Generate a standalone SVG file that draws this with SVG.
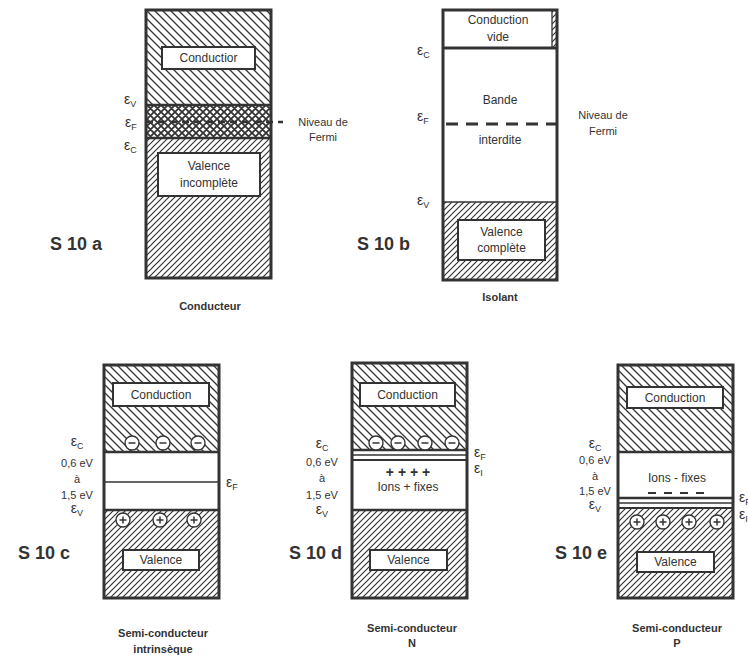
<svg xmlns="http://www.w3.org/2000/svg" width="748" height="655" viewBox="0 0 748 655">
<defs>
<pattern id="hc" width="8" height="8" patternUnits="userSpaceOnUse"><path d="M0,0 L8,8 M-4,4 L4,12 M4,-4 L12,4" stroke="#333" stroke-width="1.3"/></pattern>
<pattern id="hv" width="6" height="6" patternUnits="userSpaceOnUse"><path d="M0,6 L6,0 M-3,3 L3,-3 M3,9 L9,3" stroke="#333" stroke-width="1.2"/></pattern>
<pattern id="hx" width="7" height="7" patternUnits="userSpaceOnUse"><path d="M0,0 L7,7 M0,7 L7,0 M-3.5,3.5 L0,7 M3.5,-3.5 L10.5,3.5 M-3.5,3.5 L3.5,-3.5 M3.5,10.5 L10.5,3.5" stroke="#333" stroke-width="1.8"/></pattern>
<g id="minus"><circle r="7" fill="#fff" stroke="#333" stroke-width="1.4"/><path d="M-3.5,0 H3.5" stroke="#333" stroke-width="1.5"/></g>
<g id="plus"><circle r="7" fill="#fff" stroke="#333" stroke-width="1.4"/><path d="M-3.5,0 H3.5 M0,-3.5 V3.5" stroke="#333" stroke-width="1.5"/></g>
</defs>
<style>
text{font-family:"Liberation Sans",Arial,sans-serif;fill:#333;font-size:11px}
.m{text-anchor:middle}
.e{text-anchor:end}
.b{font-size:12px}
.t{font-weight:bold;font-size:18px}
.c{font-weight:bold;font-size:11px;text-anchor:middle}
.eps{font-size:14px}
.frame{fill:none;stroke:#333;stroke-width:3}
.box{fill:#fff;stroke:#333;stroke-width:2}
.ln{stroke:#333;stroke-width:2.5}
.thin{stroke:#333;stroke-width:1.3}
.sub{font-size:9px}
</style>
<rect width="748" height="655" fill="#fff"/>

<g id="s10a">
<rect x="146" y="10" width="125" height="95" fill="url(#hc)"/>
<rect x="146" y="105" width="125" height="33" fill="url(#hx)"/>
<rect x="146" y="138" width="125" height="140" fill="url(#hv)"/>
<line x1="146" y1="105" x2="271" y2="105" class="ln"/>
<line x1="146" y1="138" x2="271" y2="138" class="ln"/>
<rect x="146" y="10" width="125" height="268" class="frame"/>
<g id="s10a-cond"><rect x="162" y="47" width="93" height="22" class="box"/><text x="208.5" y="62" class="m b">Conductior</text></g>
<g id="s10a-val"><rect x="158" y="153" width="102" height="43" class="box"/><text x="209" y="170" class="m b">Valence</text><text x="209" y="187" class="m b">incomplète</text></g>
<text x="124" y="104" class="eps">ε<tspan class="sub" dy="3">V</tspan></text>
<text x="125" y="127" class="eps">ε<tspan class="sub" dy="3">F</tspan></text>
<text x="124" y="150" class="eps">ε<tspan class="sub" dy="3">C</tspan></text>
<text x="323" y="126" class="m">Niveau de</text>
<text x="323" y="141" class="m">Fermi</text>
<text x="50" y="250" class="t">S 10 a</text>
<text x="210" y="310" class="c">Conducteur</text>
</g>

<g id="s10b">
<rect x="443" y="10" width="114" height="270" fill="#fff"/>
<rect x="552" y="10" width="5" height="38" fill="url(#hv)"/>
<line x1="552" y1="10" x2="552" y2="48" class="thin"/>
<rect x="443" y="202" width="114" height="78" fill="url(#hv)"/>
<line x1="443" y1="48" x2="557" y2="48" stroke="#333" stroke-width="3"/>
<line x1="443" y1="202" x2="557" y2="202" class="thin"/>
<rect x="443" y="10" width="114" height="270" class="frame"/>
<text x="498" y="24" class="m b">Conduction</text>
<text x="498" y="41" class="m b">vide</text>
<text x="500" y="104" class="m b">Bande</text>
<text x="500" y="144" class="m b">interdite</text>
<g id="s10b-val"><rect x="458" y="220" width="87" height="40" class="box"/><text x="501.5" y="236" class="m b">Valence</text><text x="501.5" y="252" class="m b">complète</text></g>
<text x="417" y="55" class="eps">ε<tspan class="sub" dy="3">C</tspan></text>
<text x="417" y="121" class="eps">ε<tspan class="sub" dy="3">F</tspan></text>
<text x="417" y="205" class="eps">ε<tspan class="sub" dy="3">V</tspan></text>
<text x="603" y="119" class="m">Niveau de</text>
<text x="603" y="135" class="m">Fermi</text>
<text x="357" y="250" class="t">S 10 b</text>
<text x="500" y="301" class="c">Isolant</text>
</g>

<g id="s10c">
<rect x="104" y="365" width="115" height="87" fill="url(#hc)"/>
<rect x="104" y="510" width="115" height="88" fill="url(#hv)"/>
<line x1="104" y1="452" x2="219" y2="452" class="ln"/>
<line x1="104" y1="482" x2="219" y2="482" class="thin"/>
<line x1="104" y1="510" x2="219" y2="510" class="ln"/>
<rect x="104" y="365" width="115" height="233" class="frame"/>
<g id="s10c-cond"><rect x="113" y="383" width="96" height="23" class="box"/><text x="161" y="399" class="m b">Conduction</text></g>
<use href="#minus" x="132" y="443"/><use href="#minus" x="163" y="443"/><use href="#minus" x="198" y="443"/>
<use href="#plus" x="123" y="520"/><use href="#plus" x="160" y="520"/><use href="#plus" x="194" y="520"/>
<g id="s10c-val"><rect x="123" y="550" width="76" height="20" class="box"/><text x="161" y="564" class="m b">Valence</text></g>
<text x="226" y="487" class="eps">ε<tspan class="sub" dy="3">F</tspan></text>
<text x="77" y="446" class="m eps">ε<tspan class="sub" dy="3">C</tspan></text>
<text x="77" y="467" class="m">0,6 eV</text>
<text x="77" y="483" class="m">à</text>
<text x="77" y="499" class="m">1,5 eV</text>
<text x="77" y="513" class="m eps">ε<tspan class="sub" dy="3">V</tspan></text>
<text x="18" y="559" class="t">S 10 c</text>
<text x="163" y="637" class="c">Semi-conducteur</text>
<text x="163" y="653" class="c">intrinsèque</text>
</g>

<g id="s10d">
<rect x="352" y="363" width="115" height="87" fill="url(#hc)"/>
<rect x="352" y="510" width="115" height="88" fill="url(#hv)"/>
<line x1="352" y1="450" x2="467" y2="450" class="ln"/>
<line x1="352" y1="455" x2="467" y2="455" class="thin"/>
<line x1="352" y1="460" x2="467" y2="460" stroke="#333" stroke-width="2"/>
<line x1="352" y1="510" x2="467" y2="510" class="ln"/>
<rect x="352" y="363" width="115" height="235" class="frame"/>
<g id="s10d-cond"><rect x="360" y="383" width="95" height="23" class="box"/><text x="407.5" y="399" class="m b">Conduction</text></g>
<use href="#minus" x="376" y="443"/><use href="#minus" x="398" y="443"/><use href="#minus" x="425" y="443"/><use href="#minus" x="452" y="443"/>
<text x="408" y="477" class="m" style="font-size:14px;font-weight:bold">+ + + +</text>
<text x="408" y="491" class="m b">Ions + fixes</text>
<g id="s10d-val"><rect x="370" y="550" width="77" height="20" class="box"/><text x="408.5" y="564" class="m b">Valence</text></g>
<text x="474" y="457" class="eps">ε<tspan class="sub" dy="3">F</tspan></text>
<text x="474" y="473" class="eps">ε<tspan class="sub" dy="3">I</tspan></text>
<text x="322" y="448" class="m eps">ε<tspan class="sub" dy="3">C</tspan></text>
<text x="322" y="466" class="m">0,6 eV</text>
<text x="322" y="482" class="m">à</text>
<text x="322" y="499" class="m">1,5 eV</text>
<text x="322" y="514" class="m eps">ε<tspan class="sub" dy="3">V</tspan></text>
<text x="342" y="559" class="t e">S 10 d</text>
<text x="412" y="632" class="c">Semi-conducteur</text>
<text x="412" y="647" class="c">N</text>
</g>

<g id="s10e">
<rect x="618" y="365" width="115" height="87" fill="url(#hc)"/>
<rect x="618" y="508" width="115" height="90" fill="url(#hv)"/>
<line x1="618" y1="452" x2="733" y2="452" class="ln"/>
<line x1="618" y1="498" x2="733" y2="498" class="ln"/>
<line x1="618" y1="503" x2="733" y2="503" class="thin"/>
<line x1="618" y1="508" x2="733" y2="508" stroke="#333" stroke-width="2"/>
<rect x="618" y="365" width="115" height="233" class="frame"/>
<g id="s10e-cond"><rect x="627" y="387" width="96" height="21" class="box"/><text x="675" y="402" class="m b">Conduction</text></g>
<text x="677" y="482" class="m b">Ions - fixes</text>
<line x1="648" y1="493" x2="706" y2="493" stroke="#333" stroke-width="1.8" stroke-dasharray="8,8"/>
<use href="#plus" x="637" y="522"/><use href="#plus" x="663" y="522"/><use href="#plus" x="689" y="522"/><use href="#plus" x="717" y="522"/>
<g id="s10e-val"><rect x="637" y="552" width="77" height="20" class="box"/><text x="675.5" y="566" class="m b">Valence</text></g>
<text x="739" y="502" class="eps">ε<tspan class="sub" dy="3">F</tspan></text>
<text x="739" y="519" class="eps">ε<tspan class="sub" dy="3">I</tspan></text>
<text x="595" y="448" class="m eps">ε<tspan class="sub" dy="3">C</tspan></text>
<text x="595" y="464" class="m">0,6 eV</text>
<text x="595" y="480" class="m">à</text>
<text x="595" y="495" class="m">1,5 eV</text>
<text x="595" y="509" class="m eps">ε<tspan class="sub" dy="3">V</tspan></text>
<text x="607" y="559" class="t e">S 10 e</text>
<text x="677" y="632" class="c">Semi-conducteur</text>
<text x="677" y="647" class="c">P</text>
</g>

<g id="connectors">
<line x1="146" y1="122" x2="283" y2="122" stroke="#333" stroke-width="2.5" stroke-dasharray="7,5"/>
<line x1="446" y1="124" x2="557" y2="124" stroke="#333" stroke-width="3" stroke-dasharray="12,8"/>
</g>
</svg>
